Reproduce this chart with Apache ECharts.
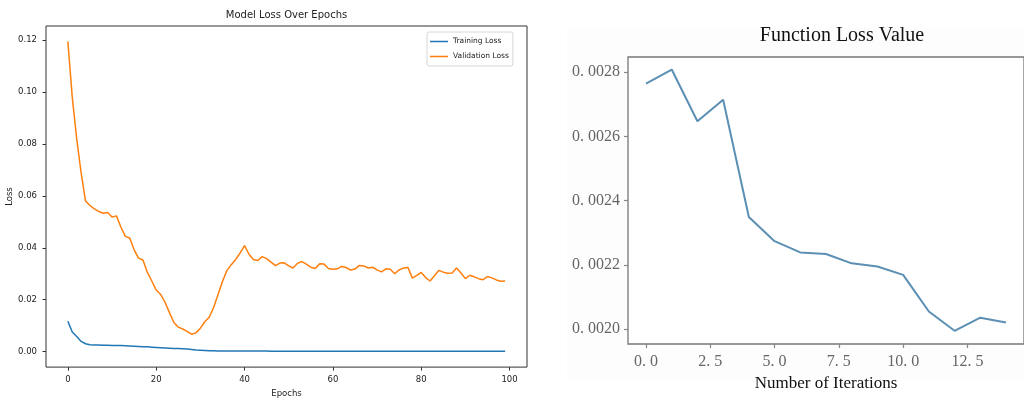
<!DOCTYPE html>
<html><head><meta charset="utf-8">
<script src="https://cdn.jsdelivr.net/npm/echarts@6/dist/echarts.min.js"></script>
<style>html,body{margin:0;padding:0;background:#fff}#c{width:1024px;height:403px}</style>
</head><body><div id="c"></div>
<script>
// ---- Left chart data ----
const epochs = Array.from({length: 100}, (_, i) => i);
const trainingLoss = [
  0.0117, 0.0075, 0.0058, 0.0039, 0.0030, 0.0026, 0.0025, 0.0025, 0.0024, 0.0024,
  0.0023, 0.0023, 0.0023, 0.0022, 0.0021, 0.0020, 0.0019, 0.0018, 0.0018, 0.0017,
  0.0016, 0.0015, 0.0014, 0.0013, 0.0012, 0.0012, 0.0011, 0.0010, 0.0008, 0.0006,
  0.0005, 0.0004, 0.0003, 0.0003, 0.0002, 0.0002, 0.0002, 0.0002, 0.0002, 0.0002,
  0.0002, 0.0002, 0.0002, 0.0002, 0.0002, 0.0002, 0.0001, 0.0001, 0.0001, 0.0001,
  0.0001, 0.0001, 0.0001, 0.0001, 0.0001, 0.0001, 0.0001, 0.0001, 0.0001, 0.0001,
  0.0001, 0.0001, 0.0001, 0.0001, 0.0001, 0.0001, 0.0001, 0.0001, 0.0001, 0.0001,
  0.0001, 0.0001, 0.0001, 0.0001, 0.0001, 0.0001, 0.0001, 0.0001, 0.0001, 0.0001,
  0.0001, 0.0001, 0.0001, 0.0001, 0.0001, 0.0001, 0.0001, 0.0001, 0.0001, 0.0001,
  0.0001, 0.0001, 0.0001, 0.0001, 0.0001, 0.0001, 0.0001, 0.0001, 0.0001, 0.0001
];
const validationLoss = [
  0.1195, 0.0980, 0.0820, 0.0690, 0.0580, 0.0563, 0.0550, 0.0540, 0.0533, 0.0536,
  0.0519, 0.0523, 0.0480, 0.0444, 0.0438, 0.0392, 0.0360, 0.0353, 0.0305, 0.0272,
  0.0237, 0.0220, 0.0190, 0.0150, 0.0112, 0.0094, 0.0087, 0.0078, 0.0067, 0.0072,
  0.0090, 0.0115, 0.0132, 0.0170, 0.0220, 0.0270, 0.0312, 0.0335, 0.0355, 0.0380,
  0.0408, 0.0375, 0.0355, 0.0351, 0.0366, 0.0358, 0.0345, 0.0331, 0.0341, 0.0342,
  0.0330, 0.0322, 0.0340, 0.0347, 0.0337, 0.0325, 0.0320, 0.0338, 0.0337, 0.0320,
  0.0317, 0.0319, 0.0328, 0.0324, 0.0314, 0.0318, 0.0332, 0.0330, 0.0322, 0.0325,
  0.0315, 0.0307, 0.0319, 0.0317, 0.0300, 0.0315, 0.0322, 0.0324, 0.0283, 0.0294,
  0.0305, 0.0285, 0.0272, 0.0292, 0.0313, 0.0306, 0.0302, 0.0303, 0.0322, 0.0303,
  0.0281, 0.0294, 0.0288, 0.0281, 0.0277, 0.0289, 0.0284, 0.0276, 0.0271, 0.0272
];
const leftXTicks = [0, 20, 40, 60, 80, 100];
const leftXTickLabels = ['0', '20', '40', '60', '80', '100'];
const leftYTicks = [0, 0.02, 0.04, 0.06, 0.08, 0.10, 0.12];
const leftYTickLabels = ['0.00', '0.02', '0.04', '0.06', '0.08', '0.10', '0.12'];

// ---- Right chart data ----
const iterations = [0, 1, 2, 3, 4, 5, 6, 7, 8, 9, 10, 11, 12, 13, 14];
const functionLoss = [
  0.002764, 0.002808, 0.002647, 0.002714, 0.002349, 0.002274, 0.002239, 0.002234,
  0.002205, 0.002195, 0.002169, 0.002055, 0.001995, 0.002036, 0.002021
];
const rightXTicks = [0, 2.5, 5, 7.5, 10, 12.5];
const rightXTickLabels = ['0. 0', '2. 5', '5. 0', '7. 5', '10. 0', '12. 5'];
const rightYTicks = [0.0020, 0.0022, 0.0024, 0.0026, 0.0028];
const rightYTickLabels = ['0. 0020', '0. 0022', '0. 0024', '0. 0026', '0. 0028'];

function fmt(ticks, labels) {
  return function (v) {
    let best = -1, bd = Infinity;
    ticks.forEach((t, i) => { const d = Math.abs(t - v); if (d < bd) { bd = d; best = i; } });
    return bd < 1e-9 ? labels[best] : '';
  };
}

const sans = 'DejaVu Sans';
const serif = 'Liberation Serif';
const chart = echarts.init(document.getElementById('c'), null, {renderer: 'canvas'});

const option = {
  animation: false,
  backgroundColor: '#fff',
  graphic: [
    {type: 'rect', z: -10, silent: true, shape: {x: 567, y: 28, width: 457, height: 353},
     style: {fill: '#fdfdfd'}}
  ],
  title: [
    {text: 'Model Loss Over Epochs', left: 286.5, top: 10, textAlign: 'center', padding: 0,
     textStyle: {fontFamily: sans, fontSize: 10, fontWeight: 'normal', color: '#222'}},
    {text: 'Function Loss Value', left: 842, top: 26, textAlign: 'center', padding: 0,
     textStyle: {fontFamily: serif, fontSize: 20, fontWeight: 'normal', color: '#111'}}
  ],
  legend: {
    data: ['Training Loss', 'Validation Loss'],
    orient: 'vertical', left: 427, top: 32,
    padding: [4.5, 4, 4.5, 3],
    backgroundColor: '#fff', borderColor: '#d6d6d6', borderWidth: 1, borderRadius: 2,
    icon: 'rect', itemWidth: 18, itemHeight: 1.5, itemGap: 5,
    textStyle: {fontFamily: sans, fontSize: 7.5, color: '#222', lineHeight: 10}
  },
  grid: [
    {left: 46, top: 26, width: 481, height: 344, show: true, borderColor: '#333', borderWidth: 1, backgroundColor: '#fff'},
    {left: 628, top: 57, width: 404, height: 287, show: true, borderColor: '#777', borderWidth: 1.3, backgroundColor: '#fff'}
  ],
  xAxis: [
    {gridIndex: 0, type: 'value', min: -4.95, max: 103.95,
     name: 'Epochs', nameLocation: 'middle', nameGap: 21,
     nameTextStyle: {fontFamily: sans, fontSize: 8.5, color: '#222'},
     axisLine: {show: false, onZero: false},
     axisTick: {show: true, length: 3.5, lineStyle: {color: '#333'}, customValues: leftXTicks},
     axisLabel: {customValues: leftXTicks, formatter: fmt(leftXTicks, leftXTickLabels), margin: 8,
                 fontFamily: sans, fontSize: 8.5, color: '#222'},
     splitLine: {show: false}},
    {gridIndex: 1, type: 'value', min: -0.7, max: 14.7,
     name: 'Number of Iterations', nameLocation: 'middle', nameGap: 30,
     nameTextStyle: {fontFamily: serif, fontSize: 17, color: '#111'},
     axisLine: {show: false, onZero: false},
     axisTick: {show: true, length: 4, lineStyle: {color: '#888', width: 1.2}, customValues: rightXTicks},
     axisLabel: {customValues: rightXTicks, formatter: fmt(rightXTicks, rightXTickLabels), margin: 10,
                 fontFamily: serif, fontSize: 16, color: '#666'},
     splitLine: {show: false}}
  ],
  yAxis: [
    {gridIndex: 0, type: 'value', min: -0.006, max: 0.1255,
     name: 'Loss', nameLocation: 'middle', nameGap: 30,
     nameTextStyle: {fontFamily: sans, fontSize: 8.5, color: '#222'},
     axisLine: {show: false, onZero: false},
     axisTick: {show: true, length: 3.5, lineStyle: {color: '#333'}, customValues: leftYTicks},
     axisLabel: {customValues: leftYTicks, formatter: fmt(leftYTicks, leftYTickLabels), margin: 9,
                 fontFamily: sans, fontSize: 8.5, color: '#222'},
     splitLine: {show: false}},
    {gridIndex: 1, type: 'value', min: 0.001954, max: 0.002847,
     axisLine: {show: false, onZero: false},
     axisTick: {show: true, length: 4, lineStyle: {color: '#888', width: 1.2}, customValues: rightYTicks},
     axisLabel: {customValues: rightYTicks, formatter: fmt(rightYTicks, rightYTickLabels), margin: 8,
                 fontFamily: serif, fontSize: 16, color: '#666'},
     splitLine: {show: false}}
  ],
  series: [
    {name: 'Training Loss', type: 'line', xAxisIndex: 0, yAxisIndex: 0, showSymbol: false,
     data: epochs.map((e, i) => [e, trainingLoss[i]]),
     lineStyle: {color: '#1f77b4', width: 1.5}, itemStyle: {color: '#1f77b4'}},
    {name: 'Validation Loss', type: 'line', xAxisIndex: 0, yAxisIndex: 0, showSymbol: false,
     data: epochs.map((e, i) => [e, validationLoss[i]]),
     lineStyle: {color: '#ff7f0e', width: 1.5}, itemStyle: {color: '#ff7f0e'}},
    {name: 'Function Loss', type: 'line', xAxisIndex: 1, yAxisIndex: 1, showSymbol: false,
     data: iterations.map((e, i) => [e, functionLoss[i]]),
     lineStyle: {color: '#5b8fb4', width: 2}, itemStyle: {color: '#5b8fb4'}}
  ]
};
chart.setOption(option);
</script></body></html>
